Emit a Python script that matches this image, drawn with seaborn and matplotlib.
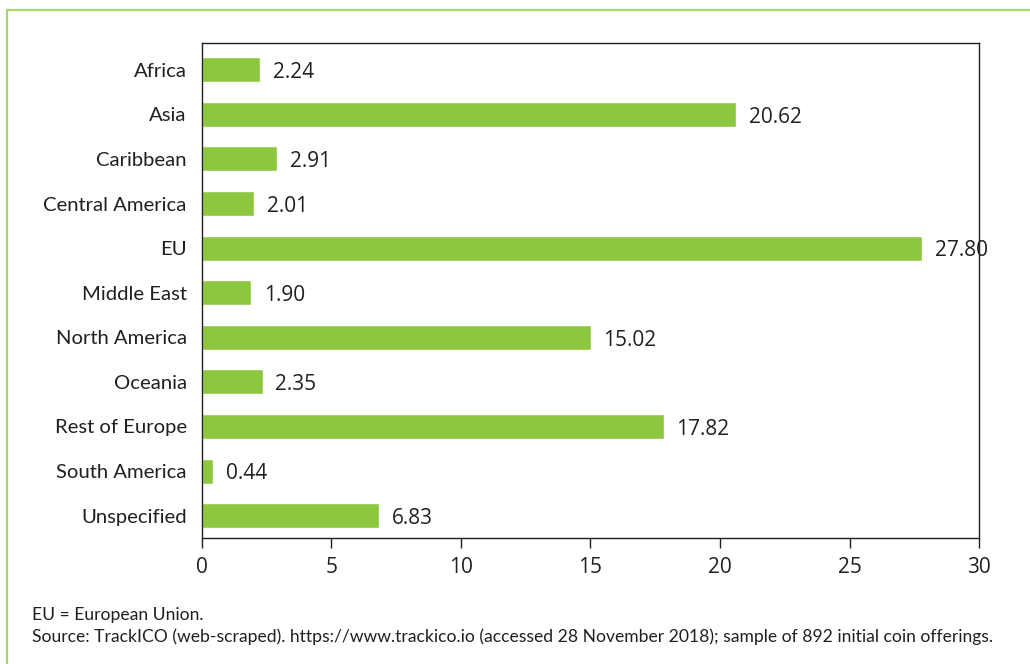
import matplotlib
matplotlib.use("Agg")
import matplotlib.pyplot as plt
import seaborn as sns
import pandas as pd
from matplotlib.patches import Rectangle

regions = ["Africa", "Asia", "Caribbean", "Central America", "EU", "Middle East",
           "North America", "Oceania", "Rest of Europe", "South America", "Unspecified"]
shares = [2.24, 20.62, 2.91, 2.01, 27.80, 1.90, 15.02, 2.35, 17.82, 0.44, 6.83]
x_ticks = [0, 5, 10, 15, 20, 25, 30]

bar_color = "#8DC63F"
text_color = "#231F20"

sns.set_theme(style="white")
plt.rcParams["font.family"] = ["Lato", "DejaVu Sans"]

df = pd.DataFrame({"region": regions, "share": shares})

fig = plt.figure(figsize=(10.3, 6.64), dpi=100)
ax = fig.add_axes([0.1961, 0.1898, 0.7544, 0.7454])

sns.barplot(data=df, x="share", y="region", orient="h", color=bar_color,
            saturation=1, width=0.56, ax=ax)

labels = ax.bar_label(ax.containers[0], labels=[f"{v:.2f}" for v in shares],
                      padding=9, fontsize=15, color=text_color,
                      family=["Open Sans", "DejaVu Sans"])
# Open Sans sits a bit high when centred; nudge down like the original
for t in labels:
    t.xyann = (9, -2)

ax.set_xlim(0, 30)
ax.set_ylim(10.5, -0.6)
ax.set_xticks(x_ticks)
ax.set_xticklabels([str(t) for t in x_ticks], family=["Open Sans", "DejaVu Sans"])
ax.set_xlabel("")
ax.set_ylabel("")

for s in ax.spines.values():
    s.set_color("#231F20")
    s.set_linewidth(1.0)

ax.tick_params(axis="x", direction="out", length=7, width=1, color=text_color,
               labelsize=15, labelcolor=text_color, pad=7, bottom=True)
ax.tick_params(axis="y", length=0, labelsize=14.6, labelcolor=text_color, pad=11)

fig.text(0.0311, 0.066, "EU = European Union.", fontsize=12.6, color=text_color)
fig.text(0.0311, 0.0335,
         "Source: TrackICO (web-scraped). https://www.trackico.io (accessed 28 November 2018); "
         "sample of 892 initial coin offerings.",
         fontsize=12.6, color=text_color)

frame = Rectangle((0.0068, -0.05), 1.1, 1.035, transform=fig.transFigure,
                  fill=False, edgecolor="#A9D46F", linewidth=1.6, clip_on=False)
fig.patches.append(frame)

fig.savefig("out.png", dpi=100)
